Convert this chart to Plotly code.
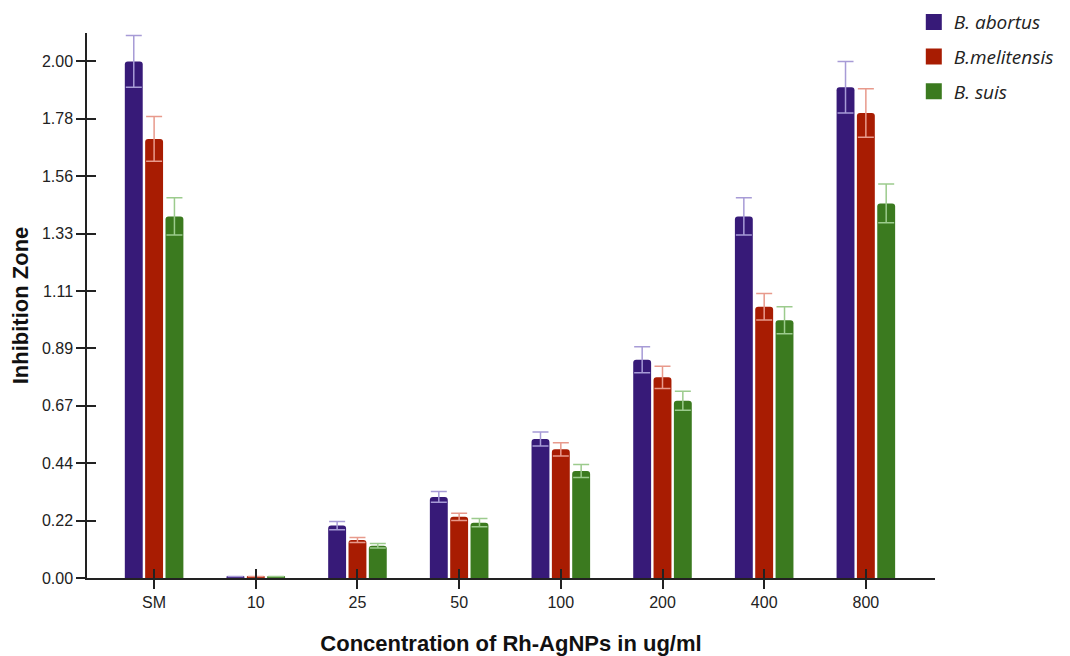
import plotly.graph_objects as go

categories = ["SM", "10", "25", "50", "100", "200", "400", "800"]
series_names = ["B. abortus", "B.melitensis", "B. suis"]

abortus = [2.00, 0.006, 0.203, 0.314, 0.538, 0.845, 1.40, 1.90]
melitensis = [1.70, 0.006, 0.147, 0.237, 0.498, 0.777, 1.05, 1.80]
suis = [1.40, 0.006, 0.125, 0.214, 0.414, 0.686, 0.998, 1.45]

abortus_err = [0.10, 0.0, 0.016, 0.021, 0.027, 0.05, 0.072, 0.10]
melitensis_err = [0.087, 0.0, 0.010, 0.014, 0.026, 0.043, 0.051, 0.094]
suis_err = [0.072, 0.0, 0.009, 0.016, 0.025, 0.037, 0.052, 0.075]

bar_colors = ["#371a78", "#a81c02", "#3b7a1f"]
err_colors = ["#a79bd6", "#e89a8c", "#9ccb8d"]

tick_vals = [0, 2/9, 4/9, 6/9, 8/9, 10/9, 12/9, 14/9, 16/9, 2.0]
tick_text = ["0.00", "0.22", "0.44", "0.67", "0.89", "1.11", "1.33", "1.56", "1.78", "2.00"]

fig = go.Figure()
for name, vals, errs, col, ecol in zip(series_names, [abortus, melitensis, suis],
                                       [abortus_err, melitensis_err, suis_err],
                                       bar_colors, err_colors):
    fig.add_trace(go.Bar(
        x=categories, y=vals, name=name, showlegend=False,
        marker=dict(color=col, line=dict(width=0)),
        error_y=dict(type="data", array=errs, visible=True, color=ecol,
                     thickness=1.5, width=8),
    ))

# legend entries (square swatches)
for name, col in zip(series_names, bar_colors):
    fig.add_trace(go.Scatter(
        x=[None], y=[None], name=name, legendgroup=name, mode="markers",
        marker=dict(symbol="square", size=16, color=col), hoverinfo="skip",
    ))

yr = [0, 2.11]
xr = [-0.66, 7.68]

fig.update_layout(
    width=1070, height=656,
    paper_bgcolor="white", plot_bgcolor="white",
    margin=dict(l=79, r=143, t=25, b=86, autoexpand=False),
    barmode="group", bargap=0.4, bargroupgap=0.12, barcornerradius=3,
    font=dict(family="Liberation Sans, Arial, sans-serif", color="#222", size=15),
    showlegend=True,
    legend=dict(x=0.975, xanchor="left", y=1.055, yanchor="top",
                font=dict(family="Open Sans, sans-serif", size=19, style="italic", color="#222"),
                tracegroupgap=7, itemsizing="trace", bgcolor="rgba(0,0,0,0)"),
    xaxis=dict(range=xr, showline=True, linecolor="#222", linewidth=1.5,
               ticks="outside", ticklen=9, tickwidth=1.5, tickcolor="#222",
               showgrid=False, zeroline=False, automargin=False,
               tickfont=dict(size=16, color="#222"),
               title=dict(text="<b>Concentration of Rh-AgNPs in ug/ml</b>",
                          font=dict(size=22, color="#111"), standoff=26)),
    yaxis=dict(range=yr, showline=True, linecolor="#222", linewidth=1.5,
               ticks="outside", ticklen=9, tickwidth=1.5, tickcolor="#222",
               tickvals=tick_vals, ticktext=tick_text,
               showgrid=False, zeroline=False, automargin=False,
               tickfont=dict(size=16, color="#222"),
               title=dict(text="<b>Inhibition Zone</b>",
                          font=dict(size=22, color="#111"), standoff=10)),
    xaxis2=dict(overlaying="x", matches="x", range=xr, type="category",
                categoryarray=categories, side="bottom", showticklabels=False,
                ticks="inside", ticklen=9, tickwidth=1.5, tickcolor="#222",
                showline=False, showgrid=False, zeroline=False, anchor="y"),
    yaxis2=dict(overlaying="y", range=yr, side="left", showticklabels=False,
                tickvals=tick_vals, ticks="inside", ticklen=9, tickwidth=1.5,
                tickcolor="#222", showline=False, showgrid=False, zeroline=False,
                anchor="x"),
)

fig.add_trace(go.Scatter(x=categories, y=[None]*len(categories), xaxis="x2", yaxis="y2",
                         showlegend=False, hoverinfo="skip", mode="markers"))

fig.write_html("out.html")
